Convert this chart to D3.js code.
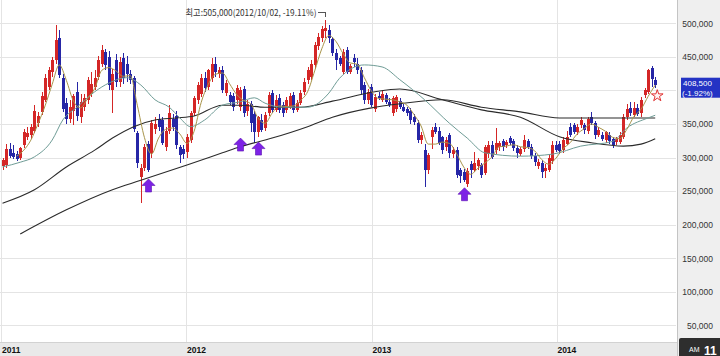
<!DOCTYPE html>
<html><head><meta charset="utf-8">
<script src="https://cdn.jsdelivr.net/npm/d3@7"></script>
<style>html,body{margin:0;padding:0;background:#fff;overflow:hidden}</style>
</head><body>
<svg id="c" width="720" height="356"></svg>
<script>
// ---- data (prices in thousand won, weekly candles from week of 2011-01-03) ----
const firstWeek = "2011-01-03";
const open = [288,289,312,306,305,300,318,330,334,340,
 352,368,386,405,428,445,478,418,381,358,
 370,398,360,376,386,395,405,420,440,457,
 450,400,445,412,448,440,424,418,336,271,
 284,320,306,342,358,356,315,340,357,362,
 315,313,308,326,366,386,395,418,405,418,
 440,425,430,396,393,392,386,376,402,370,
 380,365,338,356,344,366,396,371,389,378,
 371,375,393,371,381,397,415,420,438,466,
 478,488,490,476,456,448,428,460,428,448,
 440,430,408,386,405,372,392,385,393,383,
 366,372,384,376,372,370,360,352,326,311,
 282,330,345,340,330,315,334,305,311,281,
 279,260,290,282,288,289,277,305,319,311,
 315,324,318,329,325,314,305,313,325,316,
 302,287,292,280,281,295,319,320,311,320,
 346,348,338,348,348,340,360,352,333,334,
 326,334,328,323,323,330,360,374,363,374,
 366,393,398,433,416];
const high = [300,320,322,318,310,316,342,345,350,378,
 368,398,425,435,450,497,490,425,388,385,
 395,412,395,395,420,428,430,452,468,462,
 458,432,455,450,456,452,430,422,340,290,
 320,325,356,360,365,360,345,378,365,370,
 318,318,335,370,392,412,425,428,432,448,
 450,435,436,416,398,396,408,405,406,385,
 384,370,362,365,368,398,400,393,395,382,
 390,396,398,386,400,418,435,445,472,485,
 496,505,498,480,462,452,462,465,440,455,
 448,435,412,402,410,395,398,400,396,388,
 392,393,388,380,376,374,365,356,338,320,
 306,345,352,345,332,330,337,315,315,285,
 283,285,295,308,300,292,318,325,324,344,
 325,328,326,332,328,318,316,334,328,320,
 306,298,296,290,305,325,325,324,330,340,
 352,352,350,360,352,360,368,355,345,338,
 340,338,330,330,338,365,380,382,382,380,
 390,403,432,437,420];
const low = [282,285,300,298,295,296,314,326,328,336,
 345,364,382,400,420,440,418,368,350,352,
 348,355,352,370,380,390,400,416,435,430,
 400,366,405,405,410,412,410,338,285,232,
 280,278,300,335,340,318,310,335,340,312,
 292,298,300,322,362,380,390,398,400,412,
 420,418,396,392,378,370,380,370,360,362,
 338,322,330,338,340,362,366,368,366,360,
 366,372,366,368,378,393,410,415,432,460,
 472,478,470,452,430,436,425,425,425,435,
 425,395,380,380,375,368,385,383,380,376,
 362,368,372,368,362,350,348,322,320,256,
 275,312,335,318,305,310,300,300,270,262,
 263,256,270,278,282,270,274,300,298,305,
 310,310,314,318,310,300,302,308,312,298,
 288,283,269,270,278,290,308,305,306,318,
 330,335,334,344,335,335,348,328,330,325,
 322,320,314,318,320,328,356,362,360,362,
 360,388,395,405,404];
const close = [296,312,303,301,298,314,338,337,345,370,
 362,392,418,430,445,475,423,373,358,375,
 391,362,382,388,416,410,418,445,460,438,
 408,425,412,442,418,425,415,342,292,284,
 315,282,351,350,345,322,340,366,346,318,
 304,305,330,366,388,408,418,403,430,440,
 428,430,401,411,382,375,403,401,366,380,
 351,338,360,341,363,393,371,386,371,366,
 386,391,371,381,396,412,430,440,468,480,
 492,493,478,456,445,440,457,428,436,442,
 430,401,386,398,378,390,388,395,383,378,
 388,390,376,370,366,356,353,326,333,282,
 304,341,338,322,311,326,307,311,274,272,
 267,280,282,292,297,274,315,318,301,322,
 322,315,323,322,314,307,313,326,315,302,
 293,294,279,285,300,319,311,310,326,331,
 334,338,345,356,341,358,352,334,341,328,
 338,324,318,328,334,360,372,366,374,365,
 385,401,430,416.5,408.5];

// moving averages (week number -> value)
const ma5 = [302,311,326,350,377,409,438,415,384,374,
 388,403,430,434,429,421,422,378,330,305,
 329,342,344,335,321,339,382,409,424,426,
 410,394,385,380,359,351,366,377,376,377,
 385,398,429,462,482,473,455,441,439,419,
 399,388,387,386,383,378,364,347,320,320,
 323,321,306,286,275,284,292,301,316,317,
 319,316,315,310,297,290,299,313,322,335,
 343,350,345,339,330,328,342,361,372,391,
 408];
const ma5Weeks = d3.range(4, 185, 2);
const ma20Weeks = [0,5,9,14,17,21,26,30,35,39,43,47,50,53,57,62,67,71,74,79,86,92,95,102,107,112,119,126,131,136,146,155,163,172,176,182,184];
const ma20 = [286,293,301,326,356,375,398,411,419,408,386,375,359,346,356,378,383,389,381,375,375,396,418,438,435,416,386,351,329,307,302,305,317,324,344,359,363];
const ma60Weeks = [0,9,18,26,31,37,43,49,54,62,67,74,84,93,105,112,124,135,146,157,166,175,180,184];
const ma60 = [232,252,286,311,329,346,356,359,362,378,378,375,375,384,398,402,386,371,360,331,322,317,320,328];
const ma120Weeks = [5,18,31,39,52,62,67,76,86,93,104,112,124,135,146,157,169,184];
const ma120 = [186,222,252,266,289,307,316,329,346,360,374,380,386,375,368,359,359,359];

const priceTicks = [50,100,150,200,250,300,350,400,450,500];
const yearTicks = ["2011","2012","2013","2014"];
const arrowWeeks = [41,67,72,130];
const arrowPrices = [268,329,323,255];
const starWeek = 185, starPrice = 392;
const peakLabel = "최고:505,000(2012/10/02, -19.11%)";
const lastLabel = "408,500";
const changeLabel = "(-1.92%)";

// ---- scales ----
const parse = d3.utcParse("%Y-%m-%d");
const start = parse(firstWeek);
const wk = i => d3.utcMonday.offset(start, i);
const dates = open.map((_, i) => wk(i));
const x = d3.scaleUtc().domain([parse("2011-01-02"), parse("2014-08-24")]).range([2, 676]);
const y = d3.scaleLinear().domain([50, 500]).range([325.3, 23.3]);

const RED = "#d42626", BLUE = "#2626a6";
const svg = d3.select("#c");
svg.append("rect").attr("width", 720).attr("height", 356).attr("fill", "#fff");

// grid
const grid = svg.append("g");
grid.selectAll("line.h").data(priceTicks).join("line")
  .attr("x1", 0).attr("x2", 676)
  .attr("y1", d => Math.round(y(d)) + 0.5).attr("y2", d => Math.round(y(d)) + 0.5)
  .attr("stroke", "#e4e4e4");
grid.selectAll("line.v").data(yearTicks).join("line")
  .attr("x1", d => Math.round(x(parse(d + "-01-01"))) + 0.5).attr("x2", d => Math.round(x(parse(d + "-01-01"))) + 0.5)
  .attr("y1", 0).attr("y2", 342)
  .attr("stroke", "#e4e4e4");

// candles
const cg = svg.append("g").attr("shape-rendering", "crispEdges");
const idx = d3.range(open.length);
const col = i => close[i] >= open[i] ? RED : BLUE;
cg.selectAll("line").data(idx).join("line")
  .attr("x1", i => Math.round(x(dates[i])) + 0.5).attr("x2", i => Math.round(x(dates[i])) + 0.5)
  .attr("y1", i => y(high[i])).attr("y2", i => y(low[i]))
  .attr("stroke", col);
cg.selectAll("rect").data(idx).join("rect")
  .attr("x", i => Math.round(x(dates[i])) - 1).attr("width", 3)
  .attr("y", i => y(Math.max(open[i], close[i])))
  .attr("height", i => Math.max(1, Math.abs(y(open[i]) - y(close[i]))))
  .attr("fill", col);

// moving averages
function maLine(weeks, vals, color, w) {
  const pts = weeks.map((k, j) => [x(wk(k)), y(vals[j])]);
  svg.append("path").attr("d", d3.line().curve(d3.curveMonotoneX)(pts))
    .attr("fill", "none").attr("stroke", color).attr("stroke-width", w);
}
maLine(ma120Weeks, ma120, "#2b2b2b", 1.1);
maLine(ma60Weeks, ma60, "#2b2b2b", 1.1);
maLine(ma20Weeks, ma20, "#6f9c96", 1);
maLine(ma5Weeks, ma5, "#a8944a", 1);

// arrows
const arrowPath = "M0,0 L6.5,6.5 L3,6.5 L3,13 L-3,13 L-3,6.5 L-6.5,6.5 Z";
svg.selectAll("path.arrow").data(arrowWeeks).join("path").attr("class", "arrow")
  .attr("d", arrowPath)
  .attr("transform", (k, j) => `translate(${Math.round(x(wk(k))) + 0.5},${y(arrowPrices[j])})`)
  .attr("fill", "#7d22e6").attr("stroke", "#5a10b0").attr("stroke-width", 0.6);

// star
svg.append("path").attr("d", d3.symbol(d3.symbolStar).size(42)())
  .attr("transform", `translate(${x(wk(starWeek)) - 1.5},${y(starPrice)})`)
  .attr("fill", "#fff3f3").attr("stroke", "#e03030").attr("stroke-width", 1);

// peak annotation
const peakI = d3.maxIndex(high);
const px = Math.round(x(dates[peakI])) + 0.5, py = y(high[peakI]);
svg.append("path").attr("d", `M${px - 8},${py - 7.5} H${px} V${py - 2.5}`)
  .attr("fill", "none").attr("stroke", "#555").attr("stroke-width", 1).attr("shape-rendering", "crispEdges");
svg.append("text").text(peakLabel)
  .attr("x", px - 140).attr("y", py - 4)
  .attr("textLength", 131).attr("lengthAdjust", "spacingAndGlyphs")
  .attr("font-family", "'Noto Sans CJK KR', 'DejaVu Sans', sans-serif").attr("font-size", 9)
  .attr("fill", "#333");

// x axis band
svg.append("rect").attr("x", 0).attr("y", 342).attr("width", 677).attr("height", 14).attr("fill", "#e9e9e9");
svg.append("line").attr("x1", 0).attr("x2", 677).attr("y1", 342.5).attr("y2", 342.5).attr("stroke", "#d2d2d2");
const xa = svg.append("g").attr("transform", "translate(0,342)")
  .call(d3.axisBottom(x).tickValues(yearTicks.map(d => parse(d + "-01-01"))).tickFormat(d3.utcFormat("%Y")).tickSize(0));
xa.select(".domain").remove();
xa.selectAll("text").attr("text-anchor", "start").attr("dx", 0).attr("y", 11).attr("dy", 0)
  .attr("font-family", "'Liberation Sans', Arial, sans-serif").attr("font-size", 8.5).attr("font-weight", "bold").attr("fill", "#111");

// right panel; the tick label hidden under the last-price box is left out
const ly = y(close[close.length - 1]);
const boxTop = ly - 7, boxBottom = ly + 13;
svg.append("rect").attr("x", 677).attr("y", 0).attr("width", 43).attr("height", 356).attr("fill", "#efefef");
svg.append("line").attr("x1", 677.5).attr("x2", 677.5).attr("y1", 0).attr("y2", 356).attr("stroke", "#c4c4c4");
const ya = svg.append("g").attr("transform", "translate(677,0)")
  .call(d3.axisRight(y).tickValues(priceTicks.filter(v => y(v) + 5 < boxTop || y(v) - 5 > boxBottom))
    .tickFormat(d => d3.format(",")(d * 1000)).tickSize(0));
ya.select(".domain").remove();
ya.selectAll("text").attr("text-anchor", "end").attr("x", 36).attr("dy", "0.34em")
  .attr("font-family", "'Liberation Sans', Arial, sans-serif").attr("font-size", 8.5).attr("fill", "#333");

// last price box
svg.append("rect").attr("x", 681).attr("y", boxTop).attr("width", 39).attr("height", boxBottom - boxTop).attr("fill", "#2433c4");
svg.append("text").text(lastLabel).attr("x", 683).attr("y", ly + 1.6)
  .attr("font-family", "'Liberation Sans', Arial, sans-serif").attr("font-size", 8).attr("fill", "#fff");
svg.append("text").text(changeLabel).attr("x", 682).attr("y", ly + 11.2)
  .attr("font-family", "'Liberation Sans', Arial, sans-serif").attr("font-size", 8).attr("fill", "#fff");

// AM clock box
svg.append("rect").attr("x", 679).attr("y", 338).attr("width", 45).attr("height", 20).attr("rx", 2).attr("fill", "#2e2e2e");
svg.append("text").text("AM").attr("x", 689).attr("y", 352)
  .attr("font-family", "'Liberation Sans', Arial, sans-serif").attr("font-size", 7).attr("fill", "#fff");
svg.append("text").text("11").attr("x", 704).attr("y", 354.5)
  .attr("font-family", "'Liberation Sans', Arial, sans-serif").attr("font-size", 12).attr("font-weight", "bold").attr("fill", "#fff");
</script>
</body></html>
